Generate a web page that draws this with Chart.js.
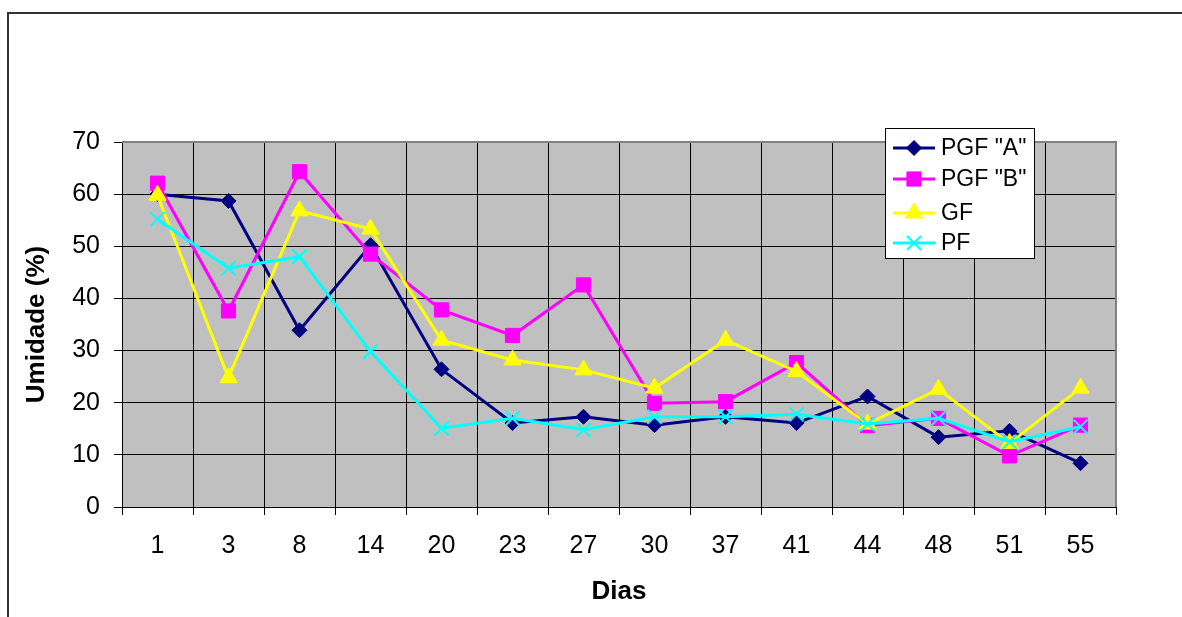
<!DOCTYPE html>
<html><head><meta charset="utf-8">
<script src="https://cdn.jsdelivr.net/npm/chart.js@4"></script>
<style>html,body{margin:0;padding:0;background:#fff;}#wrap{width:1182px;height:617px;}</style>
</head><body><div id="wrap"><canvas id="c" width="1182" height="617"></canvas></div>
<script>
const dias = ['1','3','8','14','20','23','27','30','37','41','44','48','51','55'];
const pgfA = [60.0, 58.7, 33.9, 50.2, 26.4, 16.1, 17.3, 15.7, 17.3, 16.1, 21.2, 13.4, 14.6, 8.4];
const pgfB = [62.1, 37.6, 64.3, 48.5, 37.8, 32.9, 42.6, 19.9, 20.2, 27.7, 15.6, 17.0, 9.8, 15.7];
const gf   = [59.8, 24.8, 56.8, 53.3, 32.0, 28.2, 26.3, 22.8, 32.0, 26.0, 15.9, 22.6, 12.2, 22.8];
const pf   = [55.2, 45.8, 48.0, 29.8, 15.1, 17.0, 14.8, 17.3, 17.3, 17.8, 15.9, 17.0, 12.5, 15.4];
const seriesNames = ['PGF "A"', 'PGF "B"', 'GF', 'PF'];
const yMin = 0, yMax = 70, yStep = 10;
const xTitle = 'Dias';
const yTitle = 'Umidade (%)';

const FONT = '"Liberation Sans", Arial, sans-serif';
const styles = [
  {color:'#000080', pointStyle:'rectRot', radius:7.5},
  {color:'#FF00FF', pointStyle:'rect', radius:10},
  {color:'#FFFF00', pointStyle:'triangle', radius:10},
  {color:'#00FFFF', pointStyle:'crossRot', radius:10}
];
const values = [pgfA, pgfB, gf, pf];

const datasets = values.map((v, i) => ({
  label: seriesNames[i],
  data: v,
  borderColor: styles[i].color,
  backgroundColor: styles[i].color,
  pointBackgroundColor: styles[i].color,
  pointBorderColor: styles[i].color,
  pointStyle: styles[i].pointStyle,
  pointRadius: styles[i].radius,
  pointBorderWidth: i === 3 ? 2 : 1,
  borderWidth: 3,
  tension: 0,
  order: 3 - i
}));

const framePlugin = {
  id: 'frame',
  beforeDraw(chart) {
    const {ctx, chartArea: a} = chart;
    ctx.save();
    ctx.fillStyle = '#fff';
    ctx.fillRect(0, 0, chart.width, chart.height);
    ctx.strokeStyle = '#333';
    ctx.lineWidth = 2;
    ctx.strokeRect(8, 13, 1400, 1000);
    ctx.fillStyle = '#C0C0C0';
    ctx.fillRect(a.left, a.top, a.right - a.left, a.bottom - a.top);
    ctx.restore();
  },
  beforeDatasetsDraw(chart) {
    const {ctx, chartArea: a} = chart;
    ctx.save();
    ctx.strokeStyle = '#808080';
    ctx.lineWidth = 2;
    ctx.beginPath();
    ctx.moveTo(a.left, Math.round(a.top));
    ctx.lineTo(Math.round(a.right), Math.round(a.top));
    ctx.lineTo(Math.round(a.right), a.bottom);
    ctx.stroke();
    ctx.restore();
  },
  afterDraw(chart) {
    const {ctx} = chart;
    const bx = 885.5, by = 128.5, bw = 149, bh = 130;
    ctx.save();
    ctx.fillStyle = '#fff';
    ctx.fillRect(bx, by, bw, bh);
    ctx.strokeStyle = '#000';
    ctx.lineWidth = 1;
    ctx.strokeRect(bx, by, bw, bh);
    const rows = [148, 179, 213, 243];
    seriesNames.forEach((name, i) => {
      const y = rows[i];
      const s = styles[i];
      ctx.strokeStyle = s.color;
      ctx.lineWidth = 3;
      ctx.beginPath();
      ctx.moveTo(893, y);
      ctx.lineTo(935, y);
      ctx.stroke();
      ctx.fillStyle = s.color;
      ctx.strokeStyle = s.color;
      ctx.lineWidth = i === 3 ? 2 : 1;
      Chart.helpers.drawPoint(ctx, {pointStyle: s.pointStyle, radius: s.radius, borderWidth: ctx.lineWidth, rotation: 0}, 914, y);
      ctx.fillStyle = '#000';
      ctx.font = '23px ' + FONT;
      ctx.textAlign = 'left';
      ctx.textBaseline = 'middle';
      ctx.fillText(name, 941, y + 1);
    });
    ctx.restore();
  }
};

new Chart(document.getElementById('c'), {
  type: 'line',
  data: { labels: dias, datasets },
  options: {
    responsive: false,
    devicePixelRatio: 1,
    animation: false,
    layout: { padding: { left: 0, top: 142, right: 66, bottom: 0 } },
    plugins: { legend: { display: false }, tooltip: { enabled: false } },
    scales: {
      x: {
        type: 'category',
        offset: true,
        grid: { offset: true, color: '#000', lineWidth: 1, tickLength: 8, drawTicks: true },
        border: { display: true, color: '#000', width: 1 },
        ticks: { color: '#000', font: { family: FONT, size: 25 }, padding: 16, maxRotation: 0, autoSkip: false },
        title: { display: true, text: xTitle, color: '#000', font: { family: FONT, size: 26, weight: 'bold' }, padding: { top: 0, bottom: 10 } },
        afterFit(scale) { scale.height = 110; }
      },
      y: {
        min: yMin, max: yMax,
        ticks: { stepSize: yStep, color: '#000', font: { family: FONT, size: 25 }, padding: 14 },
        grid: { color: '#000', lineWidth: 1, tickLength: 8 },
        border: { display: true, color: '#000', width: 1 },
        title: { display: true, text: yTitle, color: '#000', font: { family: FONT, size: 26, weight: 'bold' }, padding: { top: 21, bottom: 0 } },
        afterFit(scale) { scale.width = 122; }
      }
    }
  },
  plugins: [framePlugin]
});
</script>
</body></html>
